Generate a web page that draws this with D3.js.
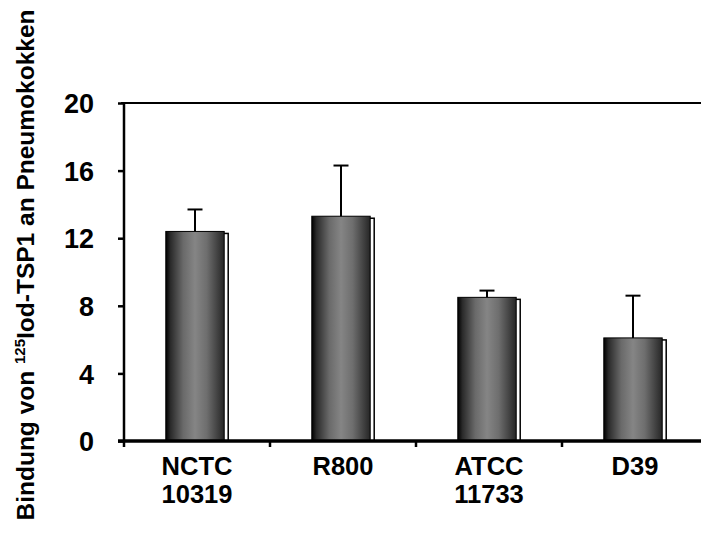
<!DOCTYPE html>
<html><head><meta charset="utf-8">
<script src="https://cdn.jsdelivr.net/npm/d3@7"></script>
<style>body{margin:0;background:#fff}svg{display:block}text{font-family:Arial,"Liberation Sans",sans-serif;font-weight:bold}</style>
</head><body>
<svg id="c" width="701" height="535"></svg>
<script>
const categories = [["NCTC","10319"],["R800"],["ATCC","11733"],["D39"]];
const values = [12.4, 13.3, 8.5, 6.1];
const errors = [1.3, 3.0, 0.4, 2.5];
const yTicks = [0, 4, 8, 12, 16, 20];

const svg = d3.select("#c");
const m = {l:124, r:-7, t:103, b:94};
const W = 701 - m.l - m.r, H = 535 - m.t - m.b;
const g = svg.append("g").attr("transform", `translate(${m.l},${m.t})`);

const x = d3.scaleBand().domain(d3.range(categories.length)).range([0, W]).paddingInner(0.6).paddingOuter(0.3);
const y = d3.scaleLinear().domain([0, 20]).range([H, 0]);
const dx = -2;

const defs = svg.append("defs");
const grad = defs.append("linearGradient").attr("id","bg").attr("x1","0").attr("x2","1").attr("y1","0").attr("y2","0");
[[0,"#000"],[0.08,"#2a2a2a"],[0.3,"#6a6a6a"],[0.5,"#858585"],[0.7,"#6e6e6e"],[0.9,"#3e3e3e"],[1,"#262626"]]
  .forEach(([o,c]) => grad.append("stop").attr("offset", o).attr("stop-color", c));

// top frame line
g.append("line").attr("x1", -3).attr("x2", W).attr("y1", 0).attr("y2", 0).attr("stroke","#000").attr("stroke-width",2.2);

// shadows
g.selectAll(".sh").data(values).join("rect")
  .attr("x", (d,i) => x(i) + dx + 4).attr("y", d => y(d) + 2)
  .attr("width", x.bandwidth()).attr("height", d => H - y(d) - 2)
  .attr("fill","#fff").attr("stroke","#000").attr("stroke-width",1.5);
// bars
g.selectAll(".bar").data(values).join("rect")
  .attr("x", (d,i) => x(i) + dx).attr("y", d => y(d))
  .attr("width", x.bandwidth()).attr("height", d => H - y(d))
  .attr("fill","url(#bg)").attr("stroke","#000").attr("stroke-width",1);
// error bars
const cx = i => x(i) + dx + x.bandwidth()/2;
const eb = g.selectAll(".eb").data(values).join("g");
eb.append("line")
  .attr("x1", (d,i) => cx(i)).attr("x2", (d,i) => cx(i))
  .attr("y1", d => y(d)).attr("y2", (d,i) => y(d + errors[i]))
  .attr("stroke","#000").attr("stroke-width",2);
eb.append("line")
  .attr("x1", (d,i) => cx(i) - 7.5).attr("x2", (d,i) => cx(i) + 7.5)
  .attr("y1", (d,i) => y(d + errors[i])).attr("y2", (d,i) => y(d + errors[i]))
  .attr("stroke","#000").attr("stroke-width",2);

// y axis
const ya = g.append("g").call(d3.axisLeft(y).tickValues(yTicks).tickSize(6).tickPadding(24).tickFormat(d3.format("d")));
ya.select(".domain").attr("stroke-width",2.5).attr("d", `M0,${H}V0`);
ya.selectAll(".tick line").attr("stroke-width",2.5);
ya.selectAll(".tick text").attr("font-size",27).attr("fill","#000").attr("dy","0.36em")
  .attr("font-family","Arial, 'Liberation Sans', sans-serif").attr("font-weight","bold");

// x axis
const xa = g.append("g").attr("transform", `translate(0,${H})`);
xa.append("line").attr("x1",-6).attr("x2",W).attr("y1",0).attr("y2",0).attr("stroke","#000").attr("stroke-width",3.5);
const step = x.step();
xa.selectAll(".xt").data(d3.range(categories.length+1)).join("line")
  .attr("x1", i => i*step).attr("x2", i => i*step).attr("y1",0).attr("y2",6)
  .attr("stroke","#000").attr("stroke-width",2.5);
const lbl = xa.selectAll(".xl").data(categories).join("text")
  .attr("text-anchor","middle").attr("font-size",25.5).attr("fill","#000")
  .attr("transform", (d,i) => `translate(${cx(i) + 2},0)`);
lbl.selectAll("tspan").data(d => d).join("tspan")
  .attr("x",0).attr("y",(d,j) => 34 + j*28).text(d => d);

// y title
const t = svg.append("text").attr("transform", `translate(34,${m.t + H/2 - 7}) rotate(-90)`)
  .attr("text-anchor","middle").attr("font-size",24.5).attr("fill","#000");
t.append("tspan").text("Bindung von ");
t.append("tspan").attr("font-size",15).attr("dy",-9).text("125");
t.append("tspan").attr("dy",9).text("Iod-TSP1 an Pneumokokken");
</script>
</body></html>
